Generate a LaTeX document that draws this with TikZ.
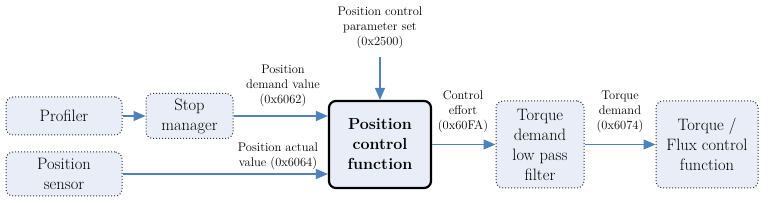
\documentclass[tikz,border=0pt]{standalone}
\usetikzlibrary{arrows.meta}
\definecolor{boxfill}{RGB}{232,237,247}
\definecolor{arrowblue}{RGB}{79,129,189}

\begin{document}
\begin{tikzpicture}[x=1pt,y=-1pt,
  block/.style={draw=black!80,dotted,line width=1pt,fill=boxfill,rounded corners=7pt,
    align=center,inner sep=2pt,font=\fontsize{16.5}{20}\selectfont},
  mainblock/.style={block,draw=black,solid,line width=2.2pt,font=\fontsize{16}{20}\selectfont\bfseries},
  lbl/.style={align=center,inner sep=1pt,font=\fontsize{12.5}{15}\selectfont},
  flow/.style={draw=arrowblue,line width=1.3pt,-{Triangle[length=12pt,width=10pt]}}]
\path (0,0) rectangle (769,203);
% blocks
\node[block,minimum width=116pt,minimum height=38pt] (profiler) at (64,116) {Profiler};
\node[block,minimum width=87pt,minimum height=45pt] (stop) at (189.5,116) {Stop\\manager};
\node[block,minimum width=116pt,minimum height=44pt] (sensor) at (64,174) {Position\\sensor};
\node[mainblock,minimum width=102pt,minimum height=87pt] (pcf) at (380,144.5) {Position\\control\\function};
\node[block,minimum width=88pt,minimum height=87pt] (filter) at (540,144.5) {Torque\\demand\\low pass\\filter};
\node[block,minimum width=102pt,minimum height=87pt] (torque) at (707,144.5) {Torque /\\Flux control\\function};
% labels
\node[lbl] (param) at (380,28) {Position control\\parameter set\\(0x2500)};
\node[lbl] (demand) at (283,86) {Position\\demand value\\(0x6062)};
\node[lbl] (actual) at (278,156) {Position actual\\value (0x6064)};
\node[lbl] (effort) at (463,112) {Control\\effort\\(0x60FA)};
\node[lbl] (tqdemand) at (620,112) {Torque\\demand\\(0x6074)};
% connectors
\coordinate (paramout) at (380,57);
\draw[flow] (paramout) -- (pcf.north);
\draw[flow] (profiler) -- (stop);
\draw[flow] (stop.east) -- (stop.east -| pcf.west);
\draw[flow] (sensor.east) -- (sensor.east -| pcf.west);
\draw[flow] (pcf) -- (filter);
\draw[flow] (filter) -- (torque);
\end{tikzpicture}
\end{document}
